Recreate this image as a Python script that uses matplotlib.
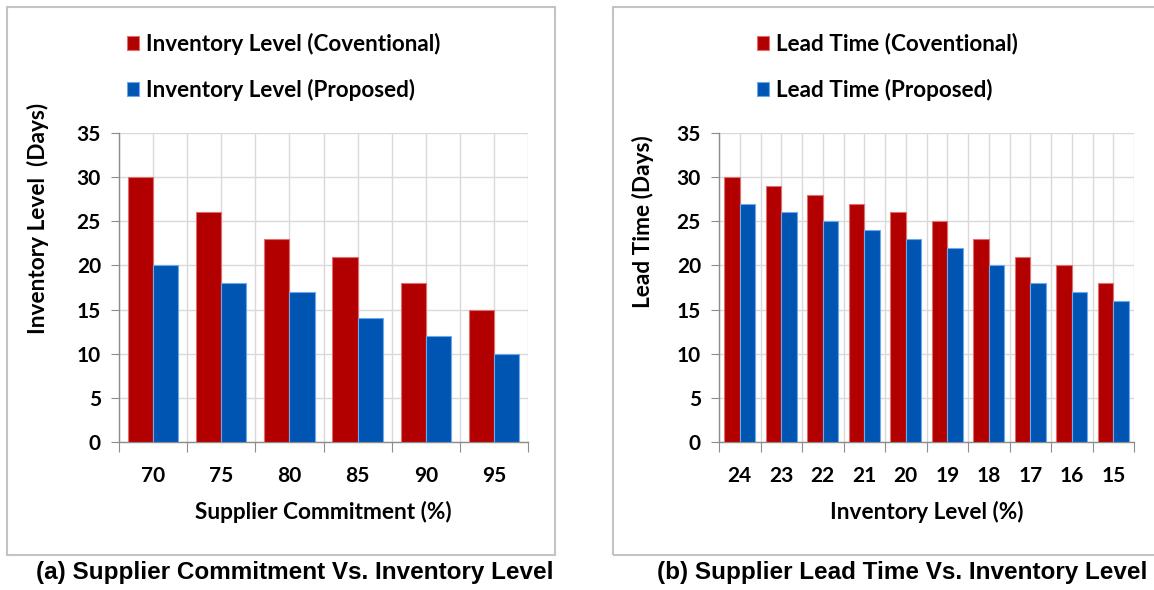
import numpy as np
import matplotlib.pyplot as plt
from matplotlib.patches import Rectangle

# supplier commitment vs inventory level
commitment = ['70', '75', '80', '85', '90', '95']
inv_conventional = [30, 26, 23, 21, 18, 15]
inv_proposed = [20, 18, 17, 14, 12, 10]

# lead time vs inventory level
inv_levels = ['24', '23', '22', '21', '20', '19', '18', '17', '16', '15']
lead_conventional = [30, 29, 28, 27, 26, 25, 23, 21, 20, 18]
lead_proposed = [27, 26, 25, 24, 23, 22, 20, 18, 17, 16]

RED = '#B20000'
RED_EDGE = '#E07070'
BLUE = '#0055B3'
BLUE_EDGE = '#6FA8E8'
GRID = '#D9D9D9'
SPINE = '#8C8C8C'
FONT = 'Lato'

W, H = 1154, 590


def px(x, y):
    return x / W, (H - y) / H


def panel(fig, rect, cats, conv, prop, names, xlabel, ylabel, ylab_pos, leg_xy):
    ax = fig.add_axes(rect)
    n = len(cats)
    x = np.arange(n) + 0.5
    bw = 0.37
    b1 = ax.bar(x - bw / 2, conv, bw, color=RED, edgecolor=RED_EDGE, linewidth=0.8,
                label=names[0], zorder=3)
    b2 = ax.bar(x + bw / 2, prop, bw, color=BLUE, edgecolor=BLUE_EDGE, linewidth=0.8,
                label=names[1], zorder=3)

    ax.set_xlim(0, n)
    ax.set_ylim(0, 35)
    ax.set_yticks(np.arange(0, 36, 5))
    ax.set_xticks(np.arange(n + 1))
    ax.set_xticks(x, minor=True)
    ax.set_xticklabels([])
    ax.set_xticklabels(cats, minor=True)

    ax.grid(which='both', axis='x', color=GRID, lw=1.0, zorder=0)
    ax.grid(which='major', axis='y', color=GRID, lw=1.0, zorder=0)
    for s in ['top', 'right']:
        ax.spines[s].set_visible(False)
    for s in ['left', 'bottom']:
        ax.spines[s].set_color(SPINE)
        ax.spines[s].set_linewidth(1.0)

    ax.tick_params(axis='x', which='major', length=7, color=SPINE, direction='out')
    ax.tick_params(axis='x', which='minor', length=0, pad=17)
    ax.tick_params(axis='y', length=6, color=SPINE, pad=7)
    for lab in ax.get_xticklabels(minor=True) + ax.get_yticklabels():
        lab.set_fontfamily(FONT)
        lab.set_fontweight('bold')
        lab.set_fontsize(15)

    ax.set_xlabel(xlabel, fontfamily=FONT, fontweight='bold', fontsize=16.3)
    ax.xaxis.label.set_va('center')
    ax.xaxis.set_label_coords(0.5, -0.227)
    ax.set_ylabel(ylabel, fontfamily=FONT, fontweight='bold', fontsize=16.3)
    ax.yaxis.label.set_va('center')
    ax.yaxis.set_label_coords(*ylab_pos)

    ax.legend(handles=[b1, b2], loc='upper left', bbox_to_anchor=px(*leg_xy),
              bbox_transform=fig.transFigure, frameon=False, borderpad=0,
              borderaxespad=0, handlelength=0.54, handleheight=0.59,
              handletextpad=0.3, labelspacing=1.06,
              prop={'family': FONT, 'weight': 'bold', 'size': 16.2})
    return ax


fig = plt.figure(figsize=(W / 100, H / 100), dpi=100)

# panel frames
fig.patches.append(Rectangle(px(7, 555), 548 / W, 548 / H, transform=fig.transFigure,
                             fill=False, edgecolor='#C4C4C4', lw=1.5))
fig.patches.append(Rectangle(px(613, 555), 560 / W, 548 / H, transform=fig.transFigure,
                             fill=False, edgecolor='#C4C4C4', lw=1.5))

l, b = px(119, 442)
panel(fig, [l, b, 409 / W, 309 / H], commitment, inv_conventional, inv_proposed,
      ['Inventory Level (Coventional)', 'Inventory Level (Proposed)'],
      'Supplier Commitment (%)', 'Inventory Level  (Days)', (-0.198, 0.725), (127, 33))

l, b = px(719, 442)
panel(fig, [l, b, 415 / W, 309 / H], inv_levels, lead_conventional, lead_proposed,
      ['Lead Time (Coventional)', 'Lead Time (Proposed)'],
      'Inventory Level (%)', 'Lead Time (Days)', (-0.183, 0.712), (757, 33))

fig.text(*px(295, 573), '(a) Supplier Commitment Vs. Inventory Level', ha='center',
         va='center', fontfamily='Liberation Sans', fontweight='bold', fontsize=17.5)
fig.text(*px(902, 573), '(b) Supplier Lead Time Vs. Inventory Level', ha='center',
         va='center', fontfamily='Liberation Sans', fontweight='bold', fontsize=17.5)

fig.savefig('out.png', dpi=100)
